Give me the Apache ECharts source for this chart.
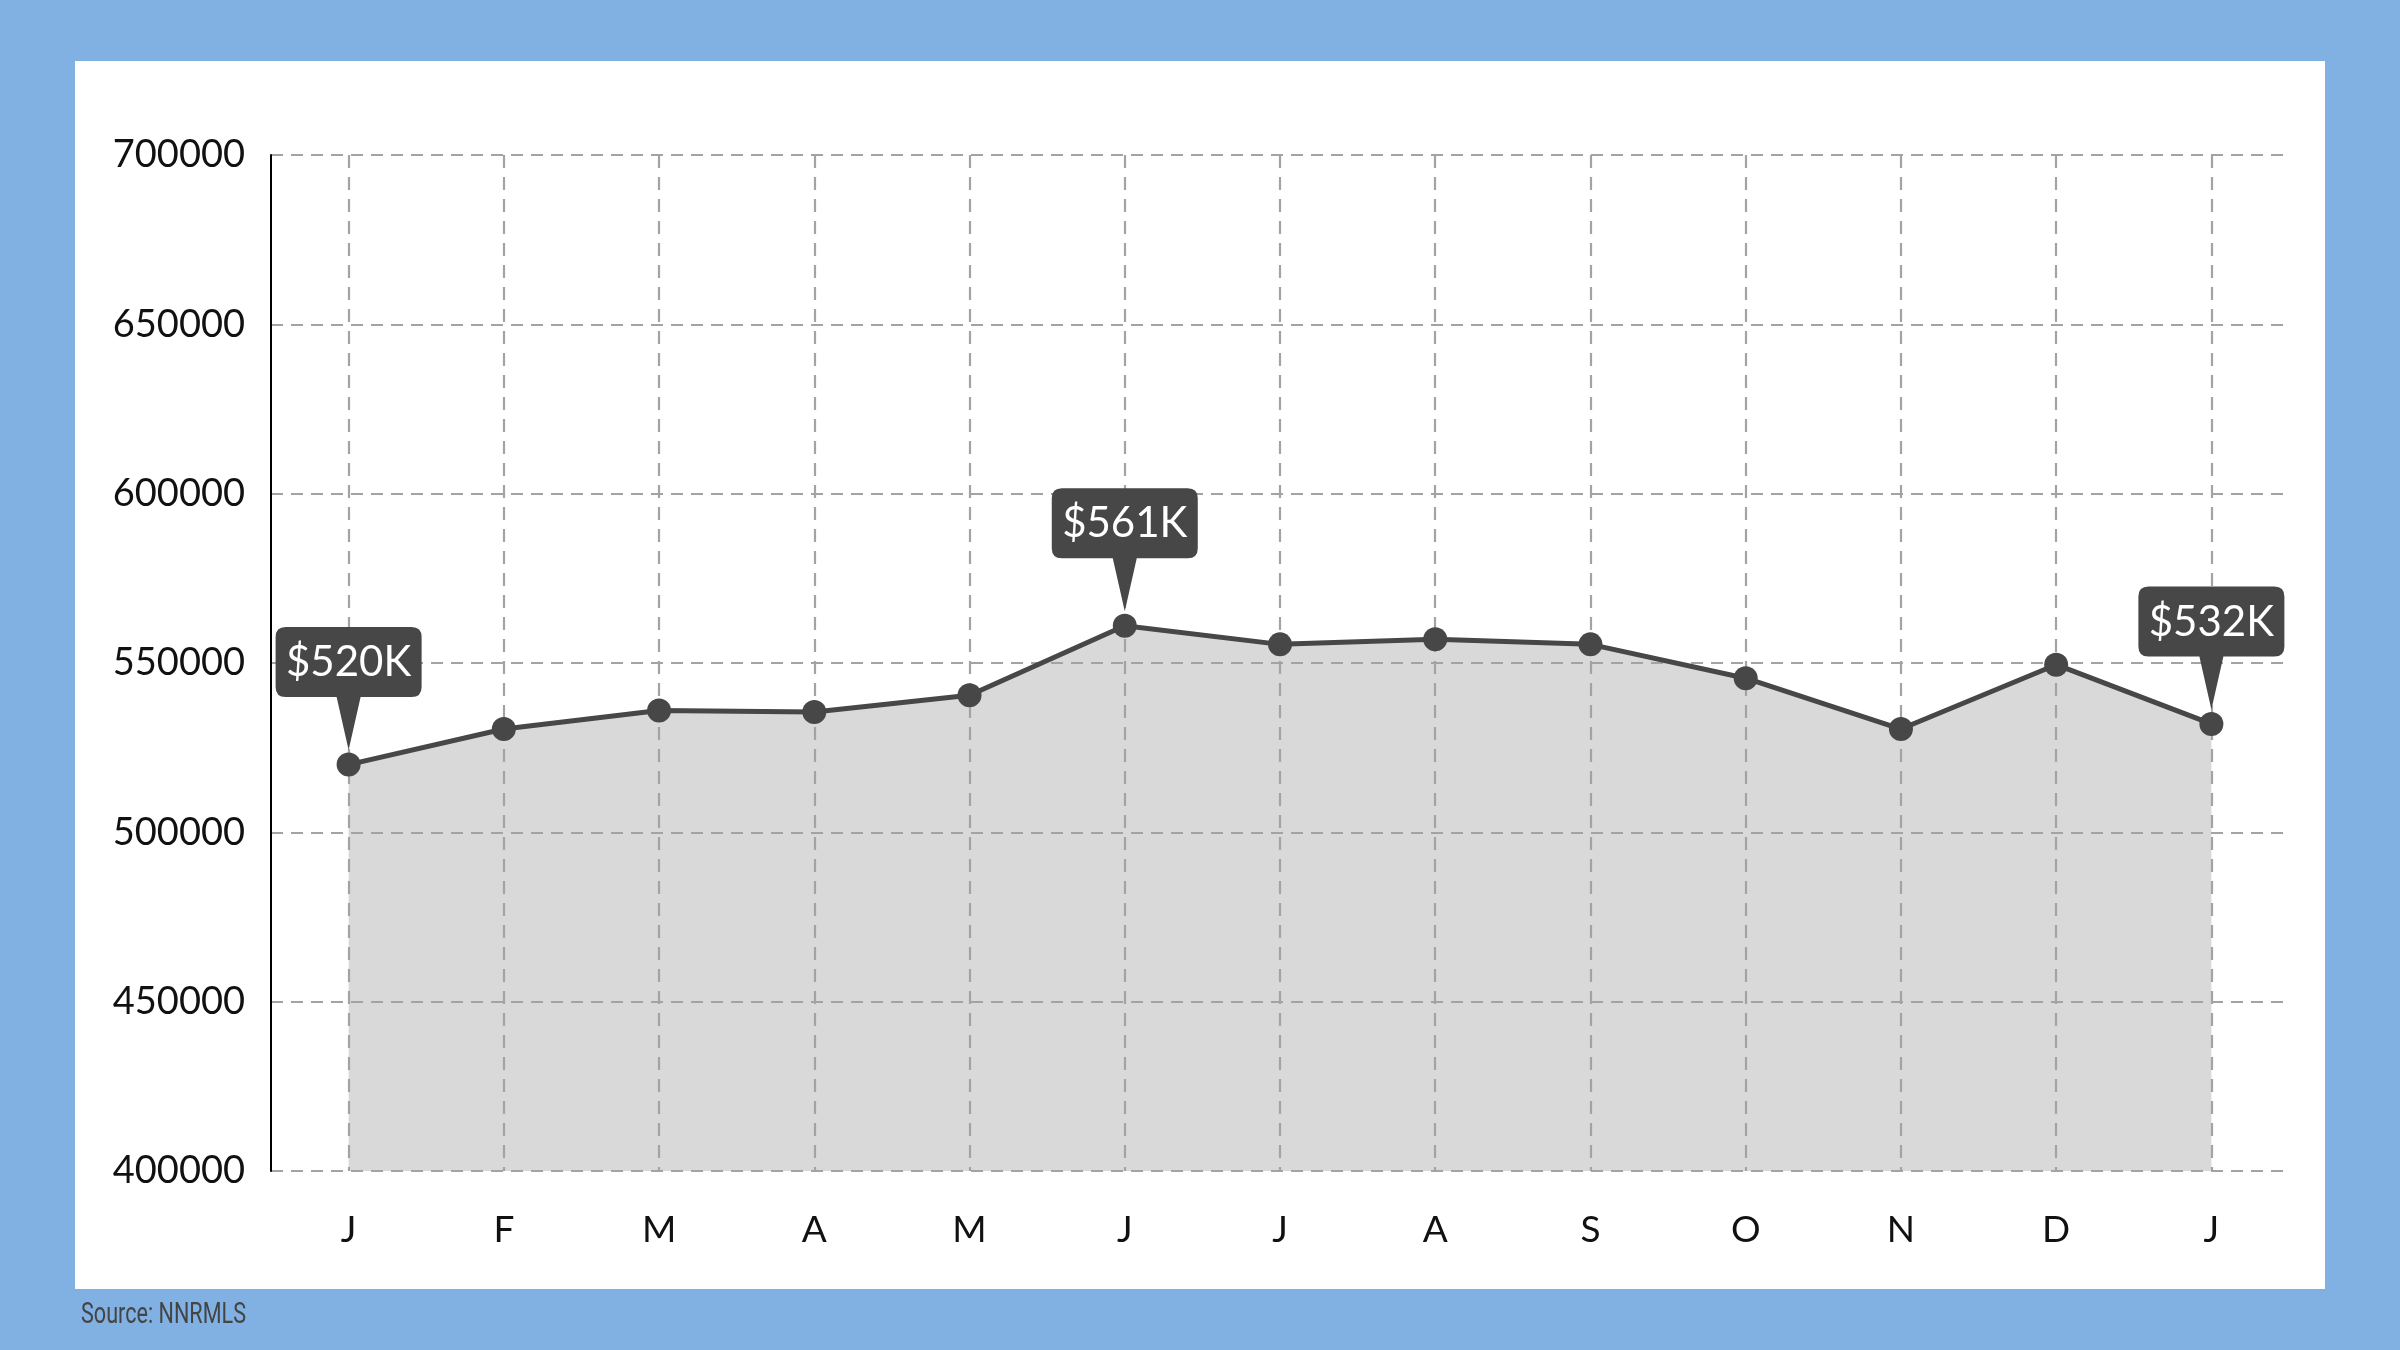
<!DOCTYPE html>
<html>
<head>
<meta charset="utf-8">
<script src="https://cdn.jsdelivr.net/npm/echarts@6/dist/echarts.min.js"></script>
<style>
  html, body { margin: 0; padding: 0; background: #80b1e2; }
  #chart { width: 2400px; height: 1350px; }
</style>
</head>
<body>
<div id="chart"></div>
<script>
var months = ['J', 'F', 'M', 'A', 'M', 'J', 'J', 'A', 'S', 'O', 'N', 'D', 'J'];
var prices = [520000, 530500, 536000, 535500, 540500, 561000, 555500, 557000, 555500, 545500, 530500, 549500, 532000];
var calloutIdx = [0, 5, 12];
var yMin = 400000, yMax = 700000, yStep = 50000;
var sourceText = 'Source: NNRMLS';

var chart = echarts.init(document.getElementById('chart'));

// callout box with a pointer underneath (146 x 70 box, 53 pointer)
var calloutPath = 'path://M10,0 H136 Q146,0 146,10 V60 Q146,70 136,70 H85 L73,123 L61,70 H10 Q0,70 0,60 V10 Q0,0 10,0 Z';

var marks = calloutIdx.map(function (i) {
    return {
        coord: [i, prices[i]],
        value: '$' + Math.round(prices[i] / 1000) + 'K'
    };
});

var option = {
    backgroundColor: '#80b1e2',
    animation: false,
    graphic: [
        {
            type: 'rect',
            z: -10,
            shape: { x: 75, y: 61, width: 2250, height: 1228 },
            style: { fill: '#ffffff' }
        },
        {
            type: 'text',
            x: 81,
            y: 1300,
            scaleX: 0.72,
            style: {
                text: sourceText,
                fill: '#444',
                font: '30px Roboto, sans-serif'
            }
        }
    ],
    grid: { left: 271, right: 111, top: 155, bottom: 179 },
    xAxis: {
        type: 'category',
        data: months,
        boundaryGap: true,
        z: 3,
        axisLine: { show: false },
        axisTick: { show: false },
        axisLabel: { color: '#111', fontFamily: 'Lato', fontSize: 37, margin: 41 },
        splitLine: {
            show: true,
            alignWithLabel: true,
            lineStyle: { color: '#a3a3a3', width: 2.2, type: [13, 9] }
        }
    },
    yAxis: {
        type: 'value',
        min: yMin,
        max: yMax,
        interval: yStep,
        z: 3,
        axisLine: { show: true, lineStyle: { color: '#000', width: 2 } },
        axisTick: { show: false },
        axisLabel: {
            color: '#111',
            fontFamily: 'Lato',
            fontSize: 38,
            margin: 26,
            formatter: function (v) { return String(v); }
        },
        splitLine: { lineStyle: { color: '#a3a3a3', width: 2.2, type: [12, 8] } }
    },
    series: [
        {
            type: 'line',
            data: prices,
            z: 1,
            symbol: 'none',
            lineStyle: { width: 0 },
            areaStyle: { color: '#d9d9d9', opacity: 1 }
        },
        {
            type: 'line',
            data: prices,
            z: 5,
            symbol: 'circle',
            symbolSize: 24,
            itemStyle: { color: '#474747' },
            lineStyle: { color: '#474747', width: 5 },
            markPoint: {
                symbol: calloutPath,
                symbolSize: [146, 123],
                symbolKeepAspect: false,
                symbolOffset: [0, -76],
                itemStyle: { color: '#474747' },
                label: {
                    show: true,
                    position: 'inside',
                    offset: [0, -26],
                    color: '#fff',
                    fontFamily: 'Lato',
                    fontSize: 42,
                    formatter: function (p) { return p.value; }
                },
                data: marks
            }
        }
    ]
};

chart.setOption(option);
</script>
</body>
</html>
